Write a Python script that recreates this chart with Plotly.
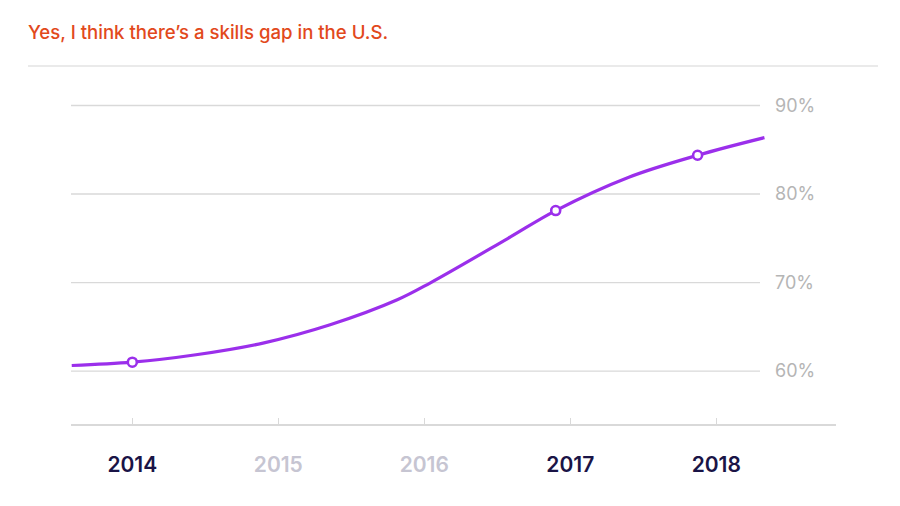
import plotly.graph_objects as go

# Data
line_years = [2013.585, 2014.0, 2014.436, 2014.895, 2015.355, 2015.815, 2016.045,
              2016.574, 2016.90, 2017.401, 2017.872, 2018.33]
line_values = [60.63, 61.0, 61.84, 63.16, 65.23, 68.05, 70.0,
               75.0, 78.13, 81.90, 84.38, 86.37]
marker_years = [2014.0, 2016.90, 2017.872]
marker_values = [61.0, 78.13, 84.38]
year_ticks = [2014, 2015, 2016, 2017, 2018]
year_highlight = [True, False, False, True, True]
pct_ticks = [60, 70, 80, 90]
pct_labels = ["60%", "70%", "80%", "90%"]
title_text = "Yes, I think there’s a skills gap in the U.S."

PURPLE = "#9B2FEB"
ORANGE = "#E2491C"
DARK = "#1A1446"
LIGHT = "#C6C5D2"
GRID = "#D9D9D9"
PCT = "#B5B5B5"

W, H = 900, 506
ml, mr, mt, mb = 71, 64, 90, 82
plot_w = W - ml - mr
grid_end = (760 - ml) / plot_w

ticktext = [
    f"<span style='color:{DARK if h else LIGHT}'>{y}</span>" for y, h in zip(year_ticks, year_highlight)
]

fig = go.Figure()
fig.add_trace(go.Scatter(
    x=line_years, y=line_values, mode="lines",
    line=dict(color=PURPLE, width=3.2, shape="spline", smoothing=1.0),
    hoverinfo="skip", showlegend=False,
))
fig.add_trace(go.Scatter(
    x=marker_years, y=marker_values, mode="markers",
    marker=dict(size=9, color="white", line=dict(color=PURPLE, width=2.6)),
    showlegend=False,
))

for v in pct_ticks:
    fig.add_shape(type="line", xref="x domain", yref="y", x0=0, x1=grid_end, y0=v, y1=v,
                  line=dict(color=GRID, width=1.3), layer="below")

# top separator line
fig.add_shape(type="line", xref="paper", yref="paper",
              x0=(28 - ml) / plot_w, x1=(878 - ml) / plot_w,
              y0=1 + (mt - 66) / (H - mt - mb), y1=1 + (mt - 66) / (H - mt - mb),
              line=dict(color="#E3E3E3", width=1.5))

fig.update_layout(
    width=W, height=H,
    margin=dict(l=ml, r=mr, t=mt, b=mb),
    paper_bgcolor="white", plot_bgcolor="white",
    font=dict(family="Inter, Roboto, sans-serif"),
    title=dict(text=title_text, xref="container", yref="container",
               x=28 / W, xanchor="left", y=1 - 32 / H, yanchor="middle",
               font=dict(size=18.6, color=ORANGE, family="Inter, sans-serif", weight=500)),
    xaxis=dict(range=[2013.58, 2018.82], tickvals=year_ticks, ticktext=ticktext,
               showgrid=False, zeroline=False, showline=True, linecolor=GRID, linewidth=1.5,
               ticks="inside", ticklen=6, tickcolor=GRID, tickwidth=1.2,
               tickfont=dict(size=21, color=DARK, family="Inter, sans-serif", weight=600),
               ticklabelstandoff=21, fixedrange=True),
    yaxis=dict(range=[54.02, 91.75], tickvals=pct_ticks, ticktext=pct_labels,
               showgrid=False, zeroline=False, showline=False,
               anchor="free", position=grid_end, side="right",
               ticks="", ticklabelstandoff=14,
               tickfont=dict(size=18, color=PCT, family="Inter, sans-serif"),
               fixedrange=True),
)

fig.write_html("out.html", config={"displayModeBar": False},
               post_script="document.body.style.margin='0';document.body.style.overflow='hidden';")
